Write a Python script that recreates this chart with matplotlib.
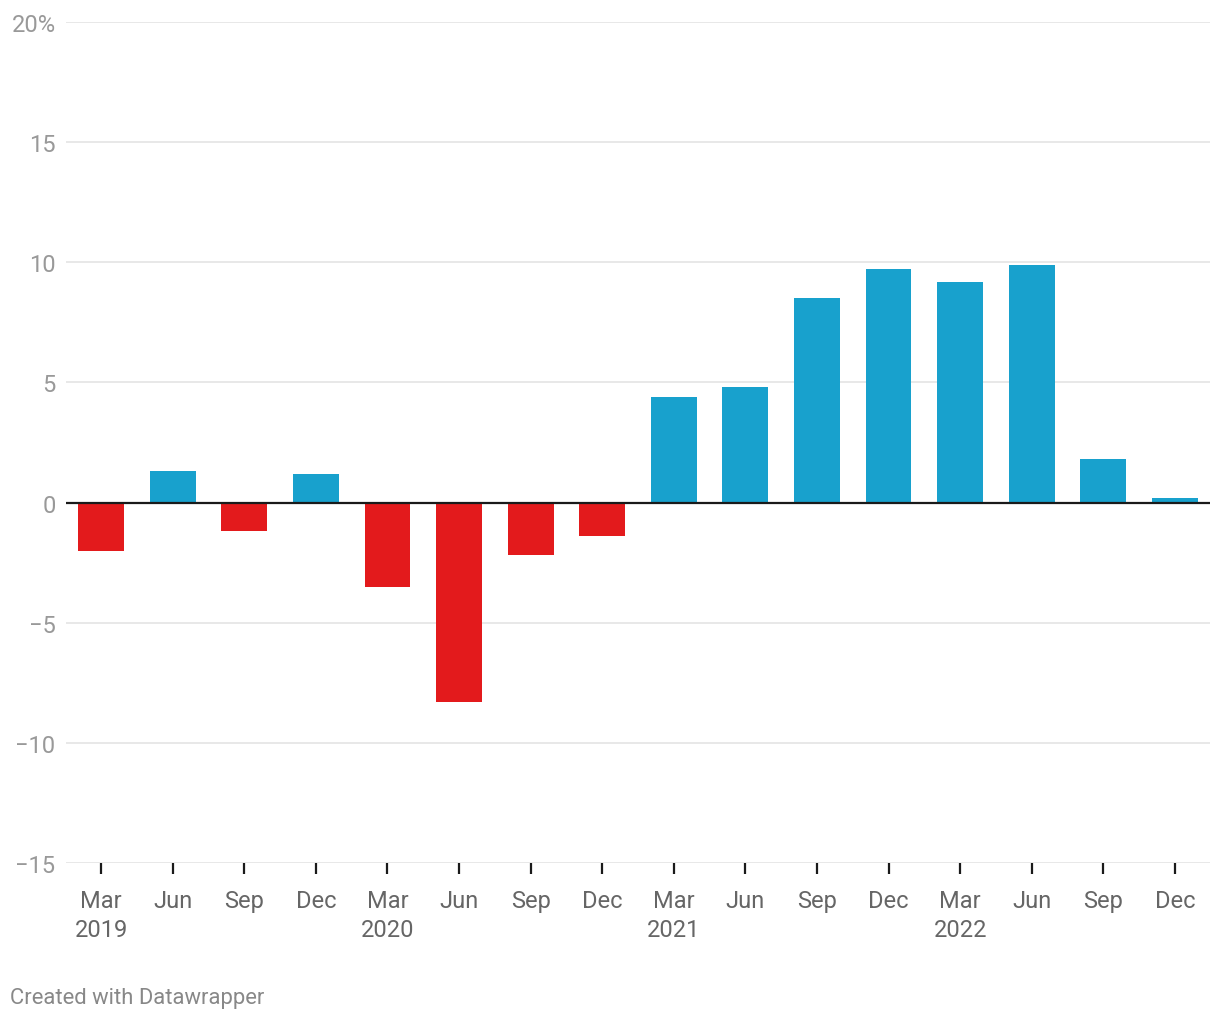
import matplotlib.pyplot as plt

plt.rcParams['font.family'] = ['Roboto', 'DejaVu Sans']

# quarterly values, %
quarters = ['Mar\n2019', 'Jun', 'Sep', 'Dec',
            'Mar\n2020', 'Jun', 'Sep', 'Dec',
            'Mar\n2021', 'Jun', 'Sep', 'Dec',
            'Mar\n2022', 'Jun', 'Sep', 'Dec']
values = [-2.0, 1.3, -1.2, 1.2,
          -3.5, -8.3, -2.2, -1.4,
          4.4, 4.8, 8.5, 9.7,
          9.2, 9.9, 1.8, 0.2]
yticks = [-15, -10, -5, 0, 5, 10, 15, 20]
ylabels = ['\u221215', '\u221210', '\u22125', '0', '5', '10', '15', '20%']

blue = '#18a1cd'
red = '#e31a1c'

fig = plt.figure(figsize=(12.2, 10.2), dpi=100)
ax = fig.add_axes([66 / 1220, 156 / 1020, 1144 / 1220, 841 / 1020])

x = list(range(len(values)))
colors = [blue if v >= 0 else red for v in values]
ax.bar(x, values, width=0.64, color=colors, zorder=2)

ax.set_xlim(-0.49, 15.49)
ax.set_ylim(-15, 20)
ax.set_yticks(yticks)
ax.set_yticklabels(ylabels)
ax.yaxis.grid(True, color='#e2e2e2', linewidth=1.1, zorder=0)
ax.axhline(0, color='#1a1a1a', linewidth=1.6, zorder=3)

for s in ax.spines.values():
    s.set_visible(False)

ax.tick_params(axis='y', length=0, pad=7.5, labelsize=17, labelcolor='#999999')
ax.set_xticks(x)
ax.set_xticklabels(quarters, linespacing=1.3)
ax.tick_params(axis='x', length=8, width=1.6, color='#1a1a1a', pad=11,
               labelsize=17, labelcolor='#666666')
for lbl in ax.get_xticklabels():
    lbl.set_verticalalignment('top')

fig.text(10 / 1220, 1 - 999 / 1020, 'Created with Datawrapper', fontsize=15.8,
         color='#888888', va='center', ha='left')

plt.savefig('out.png', dpi=100)
